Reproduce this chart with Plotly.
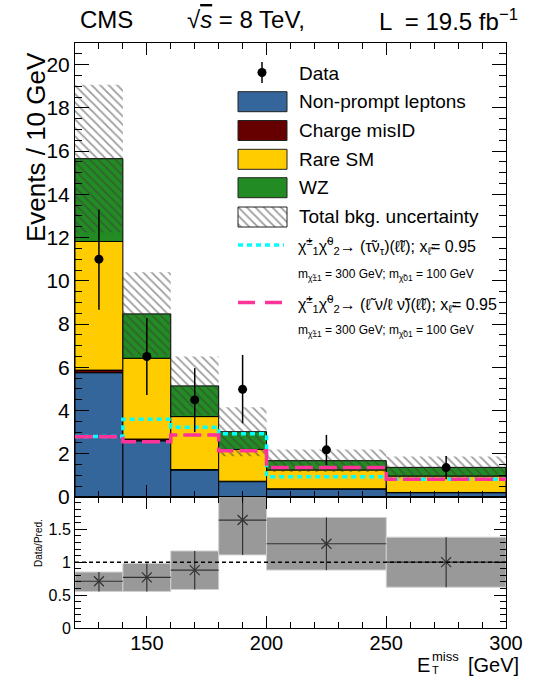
import plotly.graph_objects as go
import numpy as np

# ---------------- data ----------------
bin_edges = [120, 140, 160, 180, 200, 250, 300]
nonprompt = [5.75, 2.60, 1.25, 0.71, 0.37, 0.20]
charge_misid = [0.12, 0.08, 0.02, 0.02, 0.01, 0.01]
rare_sm = [5.95, 3.74, 2.45, 1.47, 0.87, 0.76]
wz = [3.83, 2.05, 1.42, 0.82, 0.43, 0.40]
bkg_unc = [3.42, 1.93, 1.36, 1.13, 0.52, 0.50]

data_y = [11.0, 6.5, 4.49, 4.98, 2.18, 1.36]
data_hi = [13.3, 8.27, 5.96, 6.57, 2.87, 1.90]
data_lo = [8.66, 4.72, 3.00, 3.41, 1.48, 0.82]

sig_tau = [2.80, 3.60, 3.23, 2.92, 0.94, 0.82]
sig_lep = [2.79, 2.56, 2.87, 2.14, 1.37, 0.82]

ratio = [0.71, 0.77, 0.88, 1.64, 1.28, 1.00]
ratio_hi = [0.85, 0.98, 1.17, 2.17, 1.68, 1.38]
ratio_lo = [0.555, 0.555, 0.585, 1.11, 0.88, 0.62]

x_ticks = [150, 200, 250, 300]

# ---------------- style ----------------
FONT = "Liberation Sans"
C_NP = "#34659b"
C_MIS = "#660000"
C_RARE = "#ffcc00"
C_WZ = "#238b23"
C_CYAN = "#00ffff"
C_PINK = "#ff3399"
HATCH = dict(shape="\\", fgcolor="#3a3a3a", bgcolor="rgba(0,0,0,0)", size=6, solidity=0.3)

W, H = 538, 677
ML, MR, MT, MB = 75, 32, 43, 49
PW = W - ML - MR
PH = H - MT - MB
split = 131 / PH


def px(xp):
    return (xp - ML) / PW


def py(yp):
    return (H - MB - yp) / PH


edges = np.array(bin_edges, dtype=float)
centers = (edges[:-1] + edges[1:]) / 2
widths = edges[1:] - edges[:-1]

comps = [
    ("Non-prompt leptons", nonprompt, C_NP),
    ("Charge misID", charge_misid, C_MIS),
    ("Rare SM", rare_sm, C_RARE),
    ("WZ", wz, C_WZ),
]

fig = go.Figure()

base = np.zeros(len(centers))
for name, vals, col in comps:
    v = np.array(vals)
    fig.add_trace(go.Bar(
        x=centers, y=v, base=base.copy(), width=widths, name=name,
        marker=dict(color=col, line=dict(color="black", width=1)),
        xaxis="x", yaxis="y", showlegend=False))
    base = base + v

total = base
unc = np.array(bkg_unc)
fig.add_trace(go.Bar(
    x=centers, y=2 * unc, base=total - unc, width=widths,
    marker=dict(color="rgba(0,0,0,0)", line=dict(width=0), pattern=HATCH),
    xaxis="x", yaxis="y", showlegend=False))

# signal steps
step_x = list(edges)
fig.add_trace(go.Scatter(
    x=step_x, y=list(sig_tau) + [sig_tau[-1]], mode="lines",
    line=dict(color=C_CYAN, width=3.5, dash="5px,4px", shape="hv"),
    xaxis="x", yaxis="y", showlegend=False))
fig.add_trace(go.Scatter(
    x=step_x, y=list(sig_lep) + [sig_lep[-1]], mode="lines",
    line=dict(color=C_PINK, width=3.5, dash="18px,6px", shape="hv"),
    xaxis="x", yaxis="y", showlegend=False))

# data
dy = np.array(data_y)
fig.add_trace(go.Scatter(
    x=centers, y=dy, mode="markers",
    marker=dict(color="black", size=9, symbol="circle"),
    error_y=dict(type="data", symmetric=False,
                 array=np.array(data_hi) - dy, arrayminus=dy - np.array(data_lo),
                 color="black", thickness=1.5, width=0),
    xaxis="x", yaxis="y", showlegend=False))

# ratio panel
rl = np.array(ratio_lo)
rh = np.array(ratio_hi)
fig.add_trace(go.Bar(
    x=centers, y=rh - rl, base=rl, width=widths,
    marker=dict(color="#999999", line=dict(color="#d0d0d0", width=1)),
    xaxis="x2", yaxis="y2", showlegend=False))
r = np.array(ratio)
fig.add_trace(go.Scatter(
    x=centers, y=r, mode="markers",
    marker=dict(symbol="x-thin", size=10, color="#333333", line=dict(color="#333333", width=1.2)),
    error_y=dict(type="data", symmetric=False, array=rh - r, arrayminus=r - rl,
                 color="#333333", thickness=1.2, width=0),
    error_x=dict(type="data", array=widths / 2, color="#333333", thickness=1.2, width=0),
    xaxis="x2", yaxis="y2", showlegend=False))

# hatched legend swatch on its own tiny axes
fig.add_trace(go.Bar(
    x=[0.5], y=[1], base=[0], width=[1],
    marker=dict(color="rgba(0,0,0,0)", line=dict(width=0), pattern=HATCH),
    xaxis="x3", yaxis="y3", showlegend=False))

axis_common = dict(showline=True, linecolor="black", linewidth=1, mirror="ticks",
                   ticks="inside", tickcolor="black", showgrid=False, zeroline=False,
                   tickfont=dict(family=FONT, size=21, color="black"))

fig.update_layout(
    width=W, height=H,
    margin=dict(l=ML, r=MR, t=MT, b=MB),
    paper_bgcolor="white", plot_bgcolor="white",
    barmode="overlay",
    font=dict(family=FONT, color="black"),
    xaxis=dict(domain=[0, 1], anchor="y", range=[120, 300], tickvals=x_ticks,
               showticklabels=False, ticklen=12,
               minor=dict(dtick=10, tick0=120, ticks="inside", ticklen=6, tickcolor="black"),
               **{k: v for k, v in axis_common.items() if k != "tickfont"}),
    yaxis=dict(domain=[split, 1], anchor="x", range=[0, 21], dtick=2, tick0=0,
               ticklen=14,
               minor=dict(dtick=0.5, ticks="inside", ticklen=7, tickcolor="black"),
               **axis_common),
    xaxis2=dict(domain=[0, 1], anchor="y2", range=[120, 300], tickvals=x_ticks,
                ticklen=12, ticklabelstandoff=-3,
                minor=dict(dtick=10, tick0=120, ticks="inside", ticklen=6, tickcolor="black"),
                showline=True, linecolor="black", linewidth=1, mirror="ticks",
                ticks="inside", tickcolor="black", showgrid=False, zeroline=False,
                tickfont=dict(family=FONT, size=20, color="black")),
    yaxis2=dict(domain=[0, split], anchor="x2", range=[0, 1.99], dtick=0.5, tick0=0,
                ticklen=12,
                minor=dict(dtick=0.1, ticks="inside", ticklen=6, tickcolor="black"),
                showline=True, linecolor="black", linewidth=1, mirror="ticks",
                ticks="inside", tickcolor="black", showgrid=False, zeroline=False,
                tickfont=dict(family=FONT, size=16, color="black")),
    xaxis3=dict(domain=[px(238), px(287)], anchor="y3", range=[0, 1], visible=False, fixedrange=True),
    yaxis3=dict(domain=[py(227), py(207)], anchor="x3", range=[0, 1], visible=False, fixedrange=True),
)

shapes = []
# dashed line at 1 in ratio
shapes.append(dict(type="line", xref="x2 domain", yref="y2", x0=0, x1=1, y0=1, y1=1,
                   line=dict(color="black", width=1.5, dash="4px,3px")))

# legend
leg_rows = [
    ("Non-prompt leptons", C_NP, 91.7, 111.7),
    ("Charge misID", C_MIS, 120.5, 140.5),
    ("Rare SM", C_RARE, 149.3, 169.3),
    ("WZ", C_WZ, 177.7, 197.7),
]
for name, col, y0, y1 in leg_rows:
    shapes.append(dict(type="rect", xref="paper", yref="paper",
                       x0=px(238), x1=px(287), y0=py(y1), y1=py(y0),
                       fillcolor=col, line=dict(color="#222222", width=1)))
shapes.append(dict(type="rect", xref="paper", yref="paper",
                   x0=px(238), x1=px(287), y0=py(227), y1=py(207),
                   fillcolor="rgba(0,0,0,0)", line=dict(color="#222222", width=1)))
# data legend symbol
shapes.append(dict(type="line", xref="paper", yref="paper", x0=px(262), x1=px(262),
                   y0=py(83), y1=py(62), line=dict(color="black", width=1.5)))
shapes.append(dict(type="circle", xref="paper", yref="paper", xsizemode="pixel", ysizemode="pixel",
                   xanchor=px(262), yanchor=py(72.5), x0=-4.5, x1=4.5, y0=-4.5, y1=4.5,
                   fillcolor="black", line=dict(color="black", width=0)))
# signal legend lines
shapes.append(dict(type="line", xref="paper", yref="paper", x0=px(238), x1=px(284),
                   y0=py(245), y1=py(245), line=dict(color=C_CYAN, width=3.5, dash="5px,4px")))
shapes.append(dict(type="line", xref="paper", yref="paper", x0=px(238), x1=px(284),
                   y0=py(302.5), y1=py(302.5), line=dict(color=C_PINK, width=3.5, dash="17px,10px")))

ann = []


def text(xp, yp, s, size, xanchor="left", yanchor="middle", angle=0):
    ann.append(dict(xref="paper", yref="paper", x=px(xp), y=py(yp), text=s, showarrow=False,
                    xanchor=xanchor, yanchor=yanchor, textangle=angle,
                    font=dict(family=FONT, size=size, color="black")))


text(297, 73, "Data", 19)
text(297, 101.7, "Non-prompt leptons", 19)
text(297, 130.5, "Charge misID", 19)
text(297, 159.3, "Rare SM", 19)
text(297, 187.7, "WZ", 19)
text(297, 216.5, "Total bkg. uncertainty", 19)
text(296, 246,
     "χ̃<sup>±</sup><sub>1</sub>χ̃<sup>0</sup><sub>2</sub>→ (τ̃ν<sub>τ</sub>)(ℓ̃ℓ); x<sub>ℓ̃</sub>= 0.95", 16)
text(296, 275, "m<sub>χ̃±1</sub> = 300 GeV; m<sub>χ̃01</sub> = 100 GeV", 12)
text(296, 304,
     "χ̃<sup>±</sup><sub>1</sub>χ̃<sup>0</sup><sub>2</sub>→ (ℓ̃ ν/ℓ ν̃)(ℓ̃ℓ); x<sub>ℓ̃</sub>= 0.95", 16)
text(296, 331, "m<sub>χ̃±1</sub> = 300 GeV; m<sub>χ̃01</sub> = 100 GeV", 12)

# header
text(78, 20, "CMS", 24)
text(185, 20, "√<span style='text-decoration:overline'><i>s</i></span> = 8 TeV,", 24)
text(377, 20, "L  = 19.5 fb<sup>−1</sup>", 24)

# axis titles
text(36, 147, "Events / 10 GeV", 26, xanchor="center", yanchor="middle", angle=-90)
text(38, 543, "Data/Pred.", 10, xanchor="center", yanchor="middle", angle=-90)
# x title: E with stacked T subscript and "miss" superscript
text(415, 665, "E", 20)
text(430, 656, "miss", 13)
text(430, 670, "T", 11)
text(466, 665, "[GeV]", 20)

fig.update_layout(shapes=shapes, annotations=ann)

fig.write_html("out.html")
